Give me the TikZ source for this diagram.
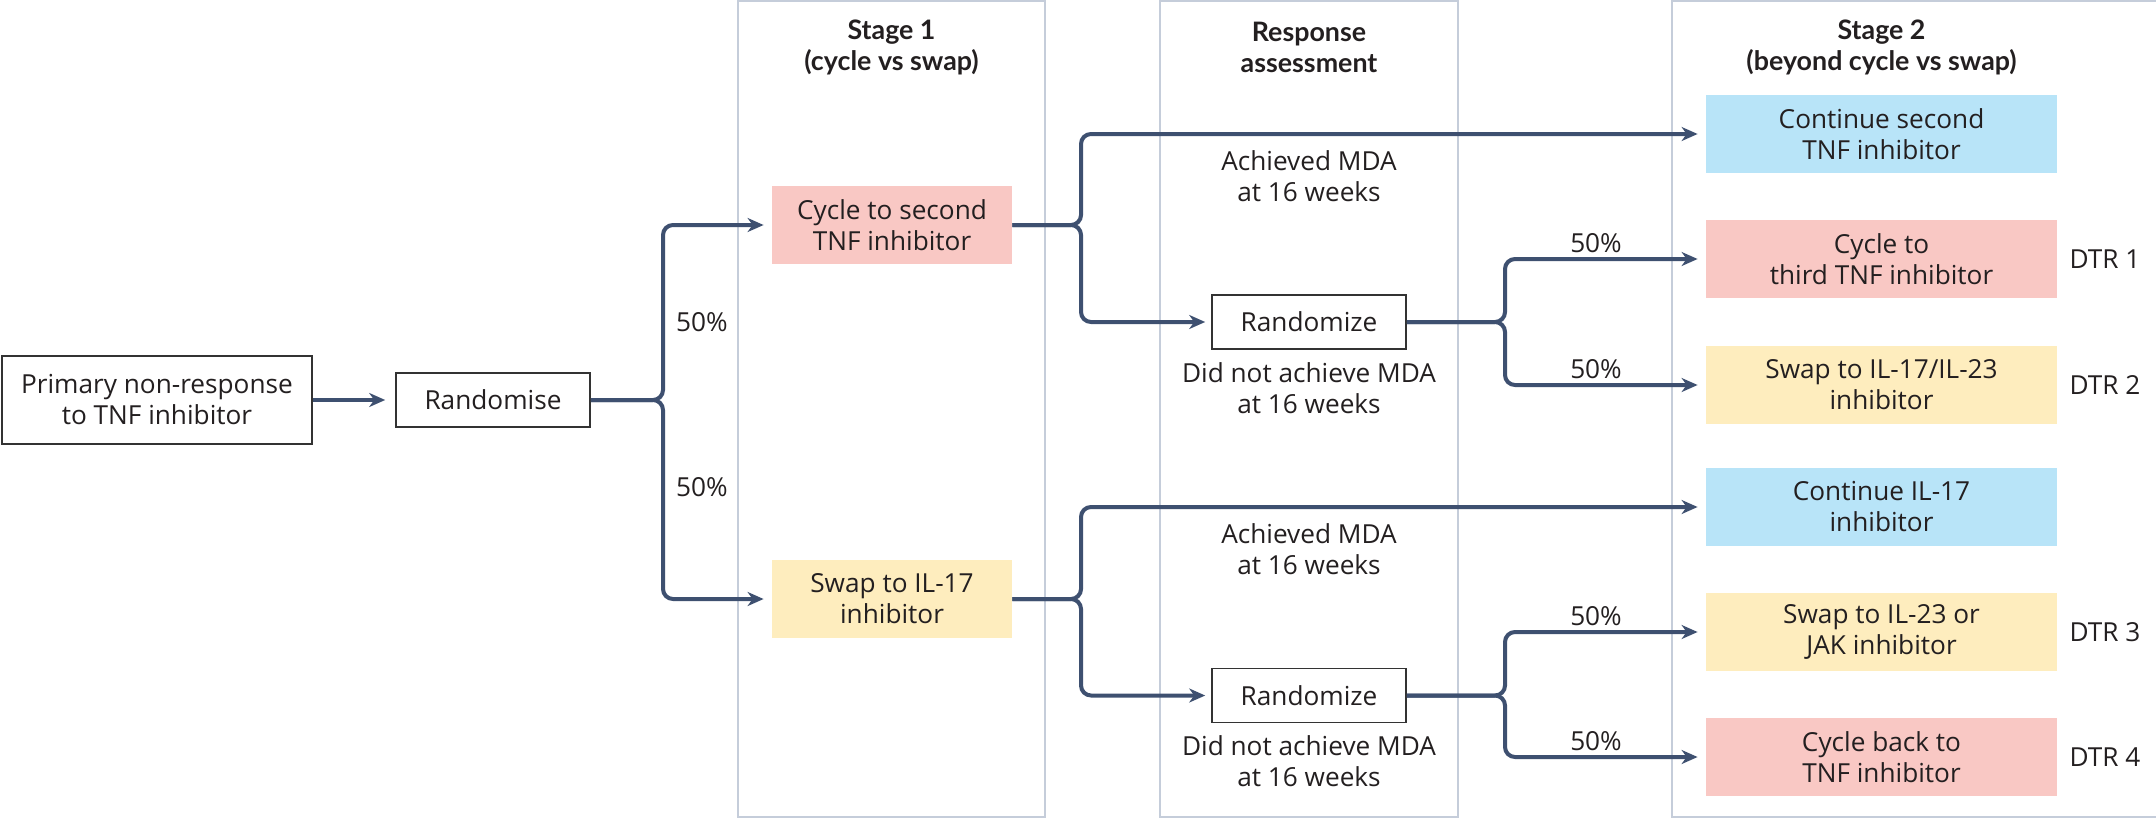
\documentclass[tikz,border=0pt]{standalone}
\usepackage{fontspec}
\setmainfont{Lato}
\newfontfamily\bodyfam{Open Sans}
\usetikzlibrary{arrows.meta}
\definecolor{linec}{HTML}{3E5070}
\definecolor{colc}{HTML}{C5CDDA}
\definecolor{boxc}{HTML}{333333}
\definecolor{txtc}{HTML}{231F20}
\definecolor{pinkc}{HTML}{F9C8C4}
\definecolor{yellc}{HTML}{FEEDBE}
\definecolor{bluec}{HTML}{B8E4F8}
\newcommand\txtfont{\bodyfam\fontsize{13.1}{15.5}\selectfont}
\newcommand\hdfont{\fontsize{13.4}{15.5}\selectfont\bfseries}
\tikzset{
  conn/.style={draw=linec, line width=2pt, rounded corners=5pt,
    -{Stealth[length=8pt,width=7pt,inset=2.5pt]}, shorten >=4pt},
  plainbox/.style={draw=boxc, line width=0.8pt, fill=white, inner sep=0pt,
    align=center, font=\txtfont, text=txtc},
  colbox/.style={inner sep=0pt, align=center, font=\txtfont, text=txtc,
    minimum width=175.5pt, minimum height=39pt},
  s1box/.style={inner sep=0pt, align=center, font=\txtfont, text=txtc,
    minimum width=120pt, minimum height=39pt},
  lbl/.style={inner sep=0pt, align=center, font=\txtfont, text=txtc},
  hdr/.style={inner sep=0pt, align=center, font=\hdfont, text=txtc},
  column/.style={draw=colc, line width=1pt}
}
\begin{document}
\begin{tikzpicture}[x=0.5pt,y=-0.5pt]
\useasboundingbox (0,0) rectangle (2156,819);
% columns
\draw[column] (738,1) rectangle (1045,817);
\draw[column] (1160,1) rectangle (1458,817);
\draw[column] (1672,1) rectangle (2220,817);
% headers
\node[hdr] (h1) at (891.5,47.5) {Stage 1\\(cycle vs swap)};
\node[hdr] (h2) at (1309,47.5) {Response\\assessment};
\node[hdr] (h3) at (1881.5,47.5) {Stage 2\\(beyond cycle vs swap)};
% boxes
\node[plainbox, minimum width=155pt, minimum height=44pt] (prim) at (157,400) {Primary non-response\\to TNF inhibitor};
\node[plainbox, minimum width=97pt, minimum height=27pt] (rand0) at (493,400) {Randomise};
\node[s1box, fill=pinkc] (cyc2) at (892,225) {Cycle to second\\TNF inhibitor};
\node[s1box, fill=yellc] (swp17) at (892,599) {Swap to IL-17\\inhibitor};
\node[plainbox, minimum width=97pt, minimum height=27pt] (randA) at (1309,322) {Randomize};
\node[plainbox, minimum width=97pt, minimum height=27pt] (randB) at (1309,695.5) {Randomize};
\node[colbox, fill=bluec] (cont2) at (1881.5,134) {Continue second\\TNF inhibitor};
\node[colbox, fill=pinkc] (cyc3) at (1881.5,259) {Cycle to\\third TNF inhibitor};
\node[colbox, fill=yellc] (swp23) at (1881.5,385) {Swap to IL-17/IL-23\\inhibitor};
\node[colbox, fill=bluec] (cont17) at (1881.5,507) {Continue IL-17\\inhibitor};
\node[colbox, fill=yellc] (swpjak) at (1881.5,632) {Swap to IL-23 or\\JAK inhibitor};
\node[colbox, fill=pinkc] (cycbk) at (1881.5,757) {Cycle back to\\TNF inhibitor};
% DTR labels
\node[lbl] (d1) at (2105,259) {DTR 1};
\node[lbl] (d2) at (2105,385) {DTR 2};
\node[lbl] (d3) at (2105,632) {DTR 3};
\node[lbl] (d4) at (2105,757) {DTR 4};
% text labels
\node[lbl] (ach1) at (1309,176.5) {Achieved MDA\\at 16 weeks};
\node[lbl] (nach1) at (1309,388.5) {Did not achieve MDA\\at 16 weeks};
\node[lbl] (ach2) at (1309,549) {Achieved MDA\\at 16 weeks};
\node[lbl] (nach2) at (1309,761.5) {Did not achieve MDA\\at 16 weeks};
\node[lbl] (p1) at (702,322) {50\%};
\node[lbl] (p2) at (702,487) {50\%};
\node[lbl] (p3) at (1596,243) {50\%};
\node[lbl] (p4) at (1596,369) {50\%};
\node[lbl] (p5) at (1596,616) {50\%};
\node[lbl] (p6) at (1596,741) {50\%};
% junctions
\coordinate (j0) at (663,400);
\coordinate (j1) at (1081,225);
\coordinate (j2) at (1505,322);
\coordinate (j3) at (1081,599);
\coordinate (j4) at (1505,695.5);
% connectors
\draw[conn, shorten >=5pt] (prim.east) -- (rand0.west);
\draw[conn] (rand0.east) -- (j0) |- (cyc2.west);
\draw[conn] (rand0.east) -- (j0) |- (swp17.west);
\draw[conn] (cyc2.east) -- (j1) |- (cont2.west);
\draw[conn, shorten >=3pt] (cyc2.east) -- (j1) |- (randA.west);
\draw[conn] (randA.east) -- (j2) |- (cyc3.west);
\draw[conn] (randA.east) -- (j2) |- (swp23.west);
\draw[conn] (swp17.east) -- (j3) |- (cont17.west);
\draw[conn, shorten >=3pt] (swp17.east) -- (j3) |- (randB.west);
\draw[conn] (randB.east) -- (j4) |- (swpjak.west);
\draw[conn] (randB.east) -- (j4) |- (cycbk.west);
\end{tikzpicture}
\end{document}
